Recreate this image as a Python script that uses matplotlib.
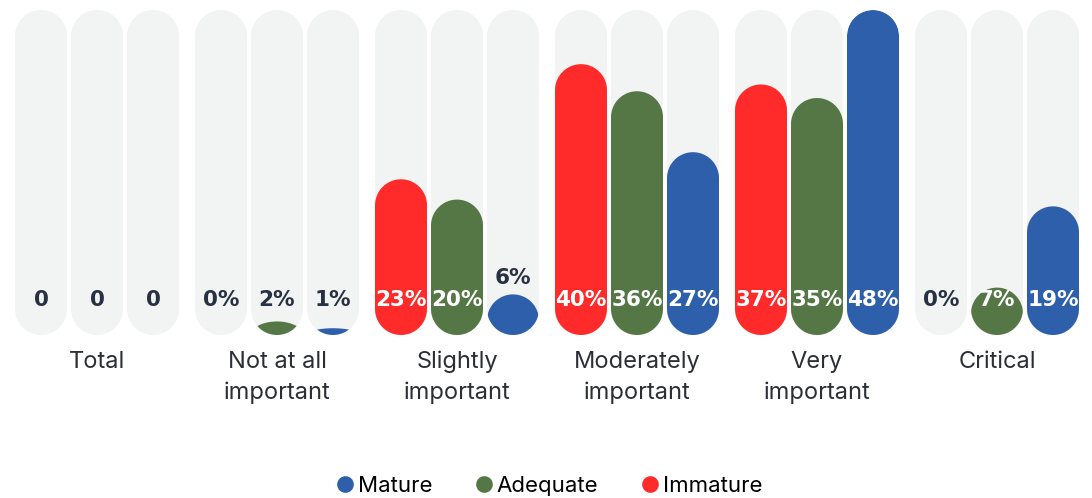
import matplotlib
matplotlib.use("Agg")
import matplotlib.pyplot as plt
import numpy as np
from matplotlib.path import Path
from matplotlib.patches import PathPatch
from matplotlib.lines import Line2D

categories = ["Total", "Not at all\nimportant", "Slightly\nimportant",
              "Moderately\nimportant", "Very\nimportant", "Critical"]
series = ["Immature", "Adequate", "Mature"]
immature = [0, 0, 23, 40, 37, 0]
adequate = [0, 2, 20, 36, 35, 7]
mature = [0, 1, 6, 27, 48, 19]
show_pct = [False, True, True, True, True, True]

colors = {"Immature": "#FF2B2B", "Adequate": "#557746", "Mature": "#2E5FAA"}
track_color = "#F2F3F3"
dark = "#273142"
text_color = "#2B2E35"

W, H = 1092, 498
fig = plt.figure(figsize=(W / 100, H / 100), dpi=100)

# axes: y=0 sits at pixel row 335, the max value at row 10
y_bottom_px, y_top_px = 335, 10
ymax = max(immature + adequate + mature)
ax = fig.add_axes([0, (H - y_bottom_px) / H, 1, (y_bottom_px - y_top_px) / H])
ax.set_xlim(0, W)
ax.set_ylim(0, ymax)
ax.axis("off")
ppy = (y_bottom_px - y_top_px) / ymax  # pixels per percent

bar_w = 52
group_step = 180
bar_step = 56
first_center = 41


def rounded_path(xc, y0, y1, r_top_px, r_bot_px, n=40):
    a = bar_w / 2
    verts = []
    # bottom cap (left -> right)
    bt = r_bot_px / ppy
    for t in np.linspace(np.pi, 2 * np.pi, n):
        verts.append((xc + a * np.cos(t), y0 + bt + bt * np.sin(t)))
    # top cap (right -> left)
    tt = r_top_px / ppy
    for t in np.linspace(0, np.pi, n):
        verts.append((xc + a * np.cos(t), y1 - tt + tt * np.sin(t)))
    verts.append(verts[0])
    codes = [Path.MOVETO] + [Path.LINETO] * (len(verts) - 2) + [Path.CLOSEPOLY]
    return Path(verts, codes)


data = {"Immature": immature, "Adequate": adequate, "Mature": mature}
value_font = dict(fontsize=15.5, fontweight="bold", family="DejaVu Sans")

for g, cat in enumerate(categories):
    gc = first_center + group_step * g + bar_step
    for k, s in enumerate(series):
        xc = first_center + group_step * g + bar_step * k
        v = data[s][g]
        track = PathPatch(rounded_path(xc, 0, ymax, bar_w / 2, bar_w / 2),
                          facecolor=track_color, edgecolor="none")
        ax.add_patch(track)
        h_px = v * ppy
        if v > 0:
            bar = PathPatch(rounded_path(xc, 0, v, min(bar_w / 2, h_px), 0),
                            facecolor=colors[s], edgecolor="none")
            ax.add_patch(bar)
            bar.set_clip_path(track)
        label = f"{v}%" if show_pct[g] else f"{v}"
        base = (y_bottom_px - 300) / ppy
        if h_px >= 45:
            ax.text(xc, base, label, ha="center", va="center", color="white",
                    **value_font)
        else:
            ax.text(xc, max(base, v + 16 / ppy), label, ha="center", va="center",
                    color=dark, **value_font)

    lines = cat.split("\n")
    for i, ln in enumerate(lines):
        fig.text(gc / W, 1 - (362 + 31 * i) / H, ln, ha="center", va="center",
                 fontsize=17, color=text_color, family="Inter")

handles = [Line2D([], [], marker="o", linestyle="none", markersize=12,
                  markerfacecolor=colors[s], markeredgecolor="none")
           for s in ["Mature", "Adequate", "Immature"]]
fig.legend(handles, ["Mature", "Adequate", "Immature"], loc="center",
           bbox_to_anchor=(548 / W, 1 - 486 / H), ncol=3, frameon=False,
           handletextpad=0.1, columnspacing=1.8, handlelength=1.0,
           prop={"family": "Inter", "size": 16})

fig.savefig("out.png", dpi=100, facecolor="white")
